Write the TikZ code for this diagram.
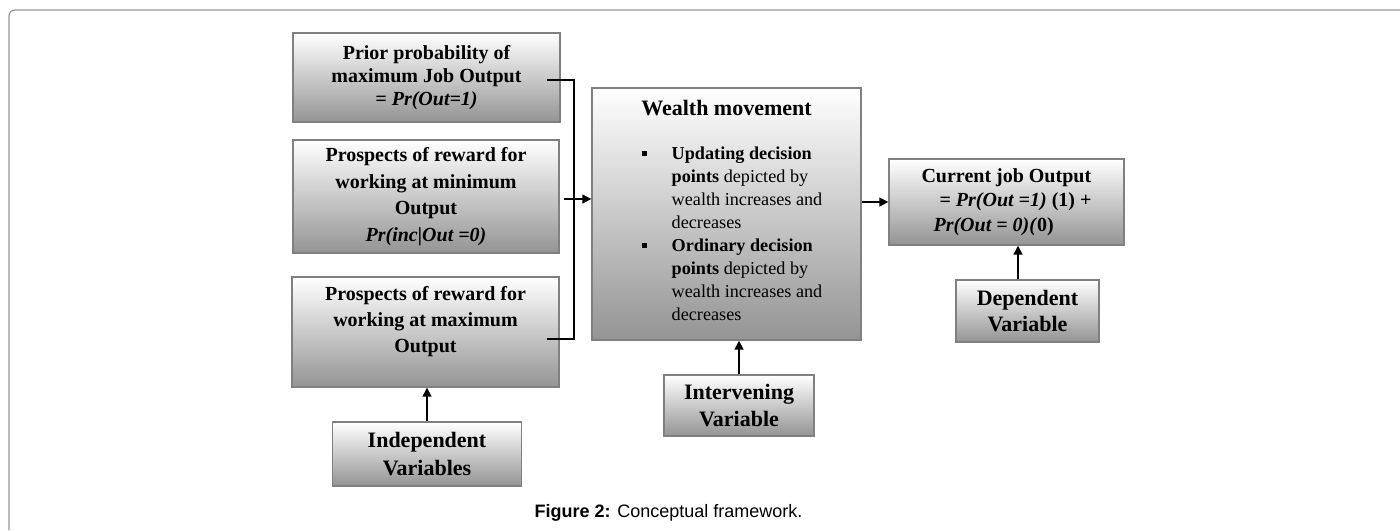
\documentclass[tikz,border=0pt]{standalone}
\usepackage{fontspec}
\setmainfont{Liberation Serif}
\newfontfamily\capfont{Liberation Sans}
\usetikzlibrary{arrows.meta}
\definecolor{boxgray}{RGB}{148,148,148}
\definecolor{edgegray}{RGB}{128,128,128}
\definecolor{framegray}{RGB}{150,150,150}

\begin{document}
\begin{tikzpicture}[x=0.5pt,y=-0.5pt,
	box/.style={draw=edgegray,line width=0.7pt,top color=white,bottom color=boxgray,align=center,inner sep=2pt,font=\fontsize{10}{11.5}\selectfont\bfseries},
	varbox/.style={box,font=\fontsize{11}{14}\selectfont\bfseries},
	arr/.style={line width=0.8pt,-{Triangle[length=4.5pt,width=4.5pt]}}]
	\useasboundingbox (0,0) rectangle (1400,530);
	% kader rond de figuur
	\draw[framegray,line width=0.6pt,rounded corners=3pt] (9,530) -- (9,10) -- (1400,10);
	% linkerkolom
	\node[box,minimum width=133.5pt,minimum height=44.5pt] (prior) at (426.5,77.5) {Prior probability of\\maximum Job Output\\\textit{= Pr(Out=1)}};
	\node[box,font=\fontsize{10}{13.3}\selectfont\bfseries,minimum width=133pt,minimum height=56.5pt] (minout) at (426,196.5) {Prospects of reward for\\working at minimum\\Output\\\textit{Pr(inc|Out =0)}};
	\node[box,font=\fontsize{10}{13}\selectfont\bfseries,text depth=13pt,minimum width=133.5pt,minimum height=55pt] (maxout) at (425.5,332) {Prospects of reward for\\working at maximum\\Output};
	\node[varbox,minimum width=94.5pt,minimum height=32pt] (indep) at (427,454) {Independent\\Variables};
	% midden
	\node[box,font=\fontsize{11}{13}\selectfont,minimum width=134.5pt,minimum height=126pt] (wealth) at (726.5,214) {{\bfseries Wealth movement}\\[13pt]
		\hspace*{5.5pt}{\fontsize{9.1}{11.5}\selectfont\begin{tabular}{@{}p{15pt}@{}l@{}}
			\rule[2pt]{2.5pt}{2.5pt} & \textbf{Updating decision}\\
			& \textbf{points} depicted by\\
			& wealth increases and\\
			& decreases\\
			\rule[2pt]{2.5pt}{2.5pt} & \textbf{Ordinary decision}\\
			& \textbf{points} depicted by\\
			& wealth increases and\\
			& decreases
		\end{tabular}}};
	\node[varbox,font=\fontsize{11}{13.5}\selectfont\bfseries,minimum width=75pt,minimum height=30.5pt] (interv) at (739,405.5) {Intervening\\Variable};
	% rechts
	\node[box,align=left,font=\fontsize{10}{12.25}\selectfont\bfseries,minimum width=117.5pt,minimum height=43pt] (current) at (1006.5,202) {Current job Output\\\hspace*{9pt}= \textit{Pr(Out =1)} (1) +\\\hspace*{6pt}\textit{Pr(Out = 0)(}0)};
	\node[varbox,font=\fontsize{11}{13}\selectfont\bfseries,minimum width=71.5pt,minimum height=31pt] (dep) at (1027.5,311) {Dependent\\Variable};
	% verbindingen
	\coordinate (jtop) at (547,80);
	\coordinate (jbot) at (547,339);
	\coordinate (join) at (564,199);
	\draw[line width=0.6pt] (jtop) -- (574,80) -- (574,339) -- (jbot);
	\draw[arr] (join) -- (join -| wealth.west);
	\draw[arr] (indep.north) -- (indep.north |- maxout.south);
	\draw[arr] (interv.north) -- (interv.north |- wealth.south);
	\draw[arr] (wealth.east |- current.west) -- (current.west);
	\draw[arr] ([xshift=-4.75pt]dep.north) -- ([xshift=-4.75pt]dep.north |- current.south);
	\node[font=\capfont\fontsize{9}{11}\selectfont] (caption) at (668.5,513) {\textbf{Figure 2:} Conceptual framework.};
\end{tikzpicture}
\end{document}
